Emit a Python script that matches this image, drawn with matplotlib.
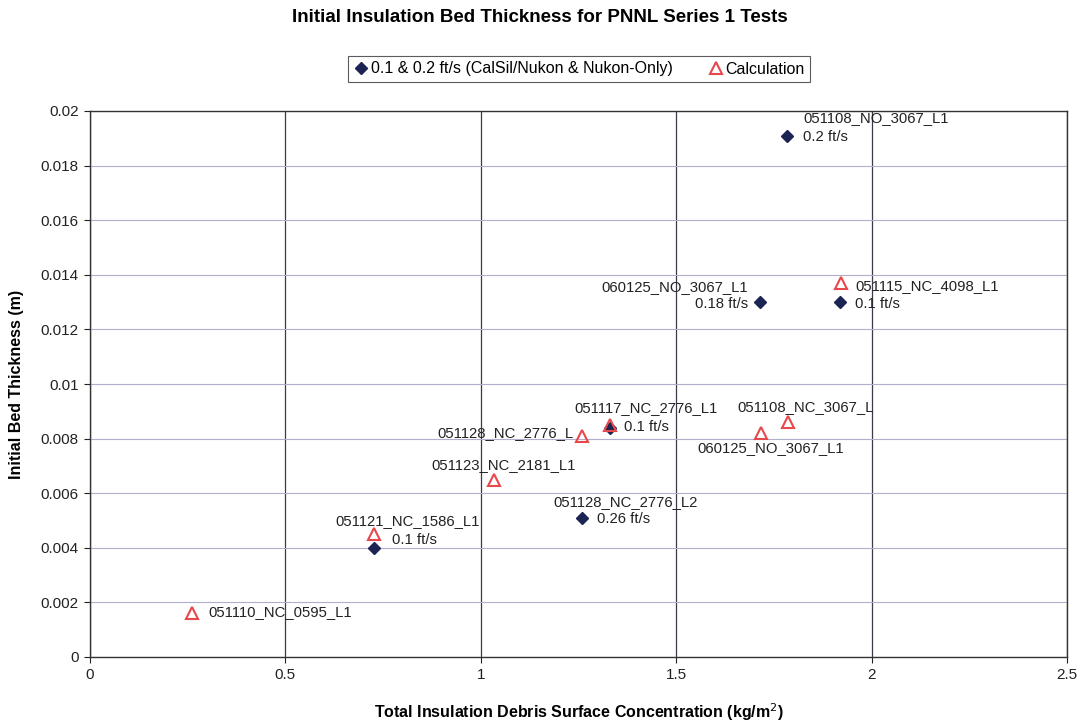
import matplotlib
matplotlib.use("Agg")
import matplotlib.pyplot as plt

plt.rcParams['font.family'] = ['Liberation Sans', 'DejaVu Sans']

# Measured data (diamonds)
meas_x = [0.727, 1.259, 1.330, 1.714, 1.784, 1.919]
meas_y = [0.0040, 0.0051, 0.0084, 0.0130, 0.0191, 0.0130]
# Calculation (triangles)
calc_x = [0.261, 0.727, 1.034, 1.259, 1.330, 1.717, 1.786, 1.922]
calc_y = [0.0016, 0.0045, 0.0065, 0.0081, 0.0085, 0.0082, 0.0086, 0.0137]

x_ticks = [0, 0.5, 1, 1.5, 2, 2.5]
x_ticklabels = ['0', '0.5', '1', '1.5', '2', '2.5']
y_ticks = [0, 0.002, 0.004, 0.006, 0.008, 0.01, 0.012, 0.014, 0.016, 0.018, 0.02]
y_ticklabels = ['0', '0.002', '0.004', '0.006', '0.008', '0.01', '0.012', '0.014', '0.016', '0.018', '0.02']

# labels: (text, series, index, dx px, dy px, ha)
labels = [
    ("051108_NO_3067_L1", 'm', 4, 16, 18, 'left'),
    ("0.2 ft/s", 'm', 4, 16, -1, 'left'),
    ("060125_NO_3067_L1", 'm', 3, -12, 15, 'right'),
    ("0.18 ft/s", 'm', 3, -12, -2, 'right'),
    ("051115_NC_4098_L1", 'c', 7, 14, -3, 'left'),
    ("0.1 ft/s", 'm', 5, 15, -2, 'left'),
    ("051117_NC_2776_L1", 'm', 2, -35, 20, 'left'),
    ("0.1 ft/s", 'm', 2, 14, 1, 'left'),
    ("051108_NC_3067_L", 'c', 6, -51, 15, 'left'),
    ("051128_NC_2776_L", 'c', 3, -9, 3, 'right'),
    ("060125_NO_3067_L1", 'c', 5, -64, -15, 'left'),
    ("051123_NC_2181_L1", 'c', 2, -63, 15, 'left'),
    ("051128_NC_2776_L2", 'm', 1, -29, 16, 'left'),
    ("0.26 ft/s", 'm', 1, 15, -1, 'left'),
    ("051121_NC_1586_L1", 'c', 1, -39, 13, 'left'),
    ("0.1 ft/s", 'm', 0, 18, 8, 'left'),
    ("051110_NC_0595_L1", 'c', 0, 16, 1, 'left'),
]

fig = plt.figure(figsize=(10.81, 7.23), dpi=100)
ax = fig.add_axes([90/1081, 66/723, (1067-90)/1081, (657-111)/723])

ax.set_xlim(0, 2.5)
ax.set_ylim(0, 0.02)
ax.set_xticks(x_ticks)
ax.set_xticklabels(x_ticklabels, fontsize=11)
ax.set_yticks(y_ticks)
ax.set_yticklabels(y_ticklabels, fontsize=11)
ax.tick_params(direction='out', length=4, width=0.8, colors='#222222', pad=4)

ax.xaxis.grid(True, color='#3a3a48', linewidth=0.9)
ax.yaxis.grid(True, color='#b0b0cc', linewidth=0.8)
ax.set_axisbelow(True)
for s in ax.spines.values():
    s.set_color('#333333')
    s.set_linewidth(1.0)

ax.plot(meas_x, meas_y, linestyle='none', marker='D', markersize=6,
        color='#1b2452', label='0.1 & 0.2 ft/s (CalSil/Nukon & Nukon-Only)', zorder=3)
ax.plot(calc_x, calc_y, linestyle='none', marker='^', markersize=9,
        markerfacecolor='none', markeredgecolor='#e8474c', markeredgewidth=1.5,
        label='Calculation', zorder=4)

for text, ser, i, dx, dy, ha in labels:
    if ser == 'm':
        xy = (meas_x[i], meas_y[i])
    else:
        xy = (calc_x[i], calc_y[i])
    ax.annotate(text, xy=xy, xytext=(dx, dy), textcoords='offset pixels',
                ha=ha, va='center', fontsize=10.7, color='#222222', zorder=5)

ax.set_xlabel('Total Insulation Debris Surface Concentration (kg/m$^2$)',
              fontsize=11.5, fontweight='bold', labelpad=14)
ax.set_ylabel('Initial Bed Thickness (m)', fontsize=11.5, fontweight='bold', labelpad=12)

fig.text(540/1081, 1 - 18/723, 'Initial Insulation Bed Thickness for PNNL Series 1 Tests',
         ha='center', va='center', fontsize=13.5, fontweight='bold')

leg = fig.legend(loc='center', bbox_to_anchor=(579/1081, 1 - 69/723), ncol=2,
                 fontsize=11.5, frameon=True, fancybox=False, handletextpad=0.1,
                 columnspacing=2.2, handlelength=1.0, borderpad=0.35)
leg.get_frame().set_edgecolor('#333333')
leg.get_frame().set_linewidth(0.8)

fig.savefig('out.png', dpi=100)
